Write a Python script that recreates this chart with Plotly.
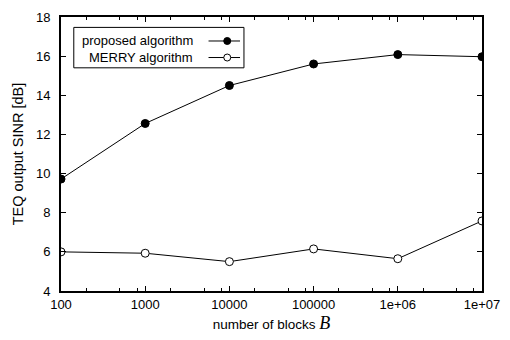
import plotly.graph_objects as go

blocks = [100, 1000, 10000, 100000, 1e6, 1e7]
proposed = [9.72, 12.56, 14.5, 15.6, 16.08, 15.97]
merry = [6.0, 5.93, 5.5, 6.15, 5.65, 7.58]
x_tickvals = [100, 1000, 10000, 100000, 1e6, 1e7]
x_ticktext = ["100", "1000", "10000", "100000", "1e+06", "1e+07"]
y_tickvals = [4, 6, 8, 10, 12, 14, 16, 18]
minor_vals = [m * 10 ** k for k in range(2, 7) for m in (2, 5, 8)]

W, H = 510, 340
L, R, T, B = 61, 21, 10, 48
pw, ph = W - L - R, H - T - B
FONT = "Liberation Sans, Arial, Helvetica, sans-serif"


def px(x):
    return (x - L) / pw


def py(y):
    return (H - B - y) / ph


fig = go.Figure()
fig.add_trace(go.Scatter(x=blocks, y=proposed, mode="lines+markers",
                         line=dict(color="black", width=1),
                         marker=dict(symbol="circle", size=8, color="black",
                                     line=dict(color="black", width=1)),
                         showlegend=False))
fig.add_trace(go.Scatter(x=blocks, y=merry, mode="lines+markers",
                         line=dict(color="black", width=1),
                         marker=dict(symbol="circle", size=8, color="white",
                                     line=dict(color="black", width=1)),
                         showlegend=False))

shapes = [dict(type="rect", xref="paper", yref="paper",
               x0=px(74), x1=px(247), y0=py(62.3), y1=py(20.7),
               line=dict(color="black", width=1), fillcolor="white", layer="above")]
annotations = []
labels = ["proposed algorithm", "MERRY algorithm"]
fills = ["black", "white"]
rows = [34.7, 51.7]
for lab, fc, ry in zip(labels, fills, rows):
    annotations.append(dict(xref="paper", yref="paper", x=px(197), y=py(ry),
                            xanchor="right", yanchor="middle", text=lab,
                            showarrow=False, font=dict(size=13, color="black", family=FONT)))
    shapes.append(dict(type="line", xref="paper", yref="paper",
                       x0=px(211), x1=px(243), y0=py(ry), y1=py(ry),
                       line=dict(color="black", width=1), layer="above"))
    shapes.append(dict(type="circle", xref="paper", yref="paper",
                       xsizemode="pixel", ysizemode="pixel",
                       xanchor=px(230), yanchor=py(ry),
                       x0=-3.5, x1=3.5, y0=-3.5, y1=3.5,
                       fillcolor=fc, line=dict(color="black", width=1), layer="above"))

fig.update_layout(
    width=W, height=H,
    margin=dict(l=L, r=R, t=T, b=B),
    paper_bgcolor="white", plot_bgcolor="white",
    font=dict(family=FONT, size=13, color="black"),
    shapes=shapes, annotations=annotations,
    xaxis=dict(type="log", range=[2, 7], tickmode="array",
               tickvals=x_tickvals, ticktext=x_ticktext,
               ticks="inside", ticklen=5, tickwidth=1, tickcolor="black",
               showline=True, linewidth=2, linecolor="black", mirror="ticks",
               showgrid=False, zeroline=False,
               minor=dict(tickmode="array", tickvals=minor_vals, ticks="inside",
                          ticklen=3, tickwidth=1, tickcolor="black", showgrid=False),
               title=dict(text="number of blocks <i><span style='font-family:Liberation Serif, DejaVu Serif, serif;font-size:18px'>B</span></i>",
                          standoff=9, font=dict(size=13.5)),
               tickfont=dict(size=13)),
    yaxis=dict(range=[4, 18], tickmode="array", tickvals=y_tickvals,
               ticks="inside", ticklen=5, tickwidth=1, tickcolor="black",
               showline=True, linewidth=2, linecolor="black", mirror="ticks",
               showgrid=False, zeroline=False, ticklabelstandoff=6,
               title=dict(text="TEQ output SINR [dB]", standoff=9, font=dict(size=14.5)),
               tickfont=dict(size=13)),
)

fig.write_html("out.html", config={"displayModeBar": False},
               post_script="document.body.style.margin='0';document.body.style.overflow='hidden';")
